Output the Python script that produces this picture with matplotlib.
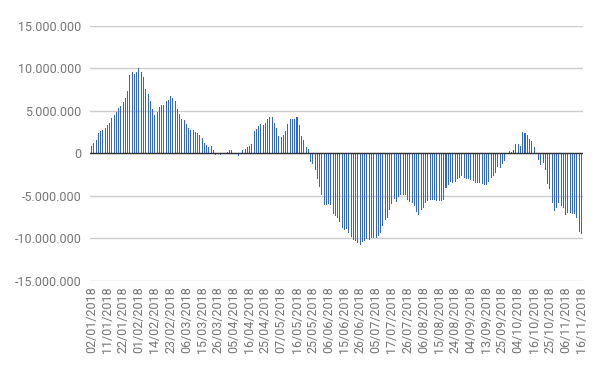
import matplotlib.pyplot as plt
from matplotlib.ticker import FuncFormatter

plt.rcParams['font.family'] = ['Roboto', 'DejaVu Sans']

# saldo diario (milhoes), um valor por pregao de 02/01/2018 a 16/11/2018
saldo_mi = [
    0.87, 1.22, 1.57, 2.36, 2.64, 2.76, 3.00, 3.30, 3.58, 4.13,
    4.50, 4.90, 5.30, 5.60, 6.06, 6.50, 7.30, 9.20, 9.57, 9.37,
    9.57, 10.08, 9.57, 8.98, 7.56, 6.97, 6.14, 5.20, 4.53, 4.84,
    5.43, 5.67, 5.67, 6.14, 6.26, 6.80, 6.54, 6.23, 5.19, 4.62,
    4.04, 3.92, 3.46, 3.00, 2.77, 2.77, 2.54, 2.42, 2.19, 1.85,
    1.27, 1.04, 0.81, 0.92, 0.46, -0.15, 0.02, -0.15, 0.02, 0.03,
    0.15, 0.46, 0.46, 0.03, 0.02, -0.27, 0.03, 0.46, 0.58, 0.73,
    0.92, 1.08, 2.65, 2.90, 3.26, 3.49, 3.37, 3.60, 4.07, 4.34,
    4.34, 3.60, 3.02, 2.09, 1.98, 2.20, 2.67, 3.49, 4.07, 4.07,
    4.07, 4.30, 3.37, 2.09, 1.63, 0.81, 0.47, -0.97, -1.20, -1.90,
    -2.95, -3.92, -4.86, -6.04, -6.04, -5.92, -6.04, -7.10, -7.33, -7.57,
    -8.04, -8.75, -8.98, -8.86, -9.33, -9.80, -10.16, -10.27, -10.50, -10.75,
    -10.45, -10.27, -10.10, -10.15, -10.00, -9.95, -9.95, -9.70, -9.30, -8.55,
    -7.85, -7.60, -6.65, -5.90, -5.30, -5.67, -5.10, -4.88, -4.88, -4.88,
    -5.45, -5.67, -5.88, -6.14, -6.90, -7.25, -6.70, -6.45, -5.85, -5.57,
    -5.50, -5.50, -5.50, -5.60, -5.60, -5.60, -5.52, -4.10, -3.73, -3.41,
    -3.45, -3.30, -3.05, -2.94, -2.70, -2.90, -3.00, -3.02, -3.15, -3.27,
    -3.49, -3.49, -3.49, -3.60, -3.69, -3.69, -3.39, -2.92, -2.68, -2.30,
    -1.60, -1.73, -1.25, -0.87, 0.03, 0.25, 0.14, 0.45, 1.08, 1.08,
    0.83, 2.50, 2.38, 2.14, 1.67, 1.43, 0.71, 0.02, -0.75, -1.33,
    -1.12, -1.95, -3.62, -4.20, -5.80, -6.72, -6.47, -5.85, -6.23, -6.47,
    -7.18, -6.95, -7.04, -7.16, -7.16, -7.54, -9.20, -9.44,
]

# um rotulo a cada 7 pregoes
rotulos = [
    '02/01/2018', '11/01/2018', '22/01/2018', '01/02/2018', '14/02/2018',
    '23/02/2018', '06/03/2018', '15/03/2018', '26/03/2018', '05/04/2018',
    '16/04/2018', '25/04/2018', '07/05/2018', '16/05/2018', '25/05/2018',
    '06/06/2018', '15/06/2018', '26/06/2018', '05/07/2018', '17/07/2018',
    '26/07/2018', '06/08/2018', '15/08/2018', '24/08/2018', '04/09/2018',
    '13/09/2018', '25/09/2018', '04/10/2018', '16/10/2018', '25/10/2018',
    '06/11/2018', '16/11/2018',
]

y_ticks = [-15e6, -10e6, -5e6, 0, 5e6, 10e6, 15e6]

valores = [v * 1e6 for v in saldo_mi]
x = list(range(len(valores)))

fig = plt.figure(figsize=(6, 3.71), dpi=100)
ax = fig.add_axes([0.15, 0.2426, 0.8217, 0.6874])

ax.bar(x, valores, width=0.45, color='#3366cc', zorder=3)
ax.axhline(0, color='#333333', linewidth=1, zorder=4)

ax.set_ylim(-15e6, 15e6)
ax.set_xlim(-0.7, len(valores) - 0.3)
ax.set_yticks(y_ticks)
ax.yaxis.set_major_formatter(FuncFormatter(lambda v, p: f'{int(v):,}'.replace(',', '.')))
ax.set_xticks(x[::7])
ax.set_xticklabels(rotulos, rotation=90)

ax.grid(axis='y', color='#cccccc', linewidth=1, zorder=0)
for s in ax.spines.values():
    s.set_visible(False)
ax.tick_params(axis='both', length=0, labelsize=9, colors='#757575')
ax.tick_params(axis='y', pad=6)
ax.tick_params(axis='x', pad=4)

fig.savefig('out.png', dpi=100)
